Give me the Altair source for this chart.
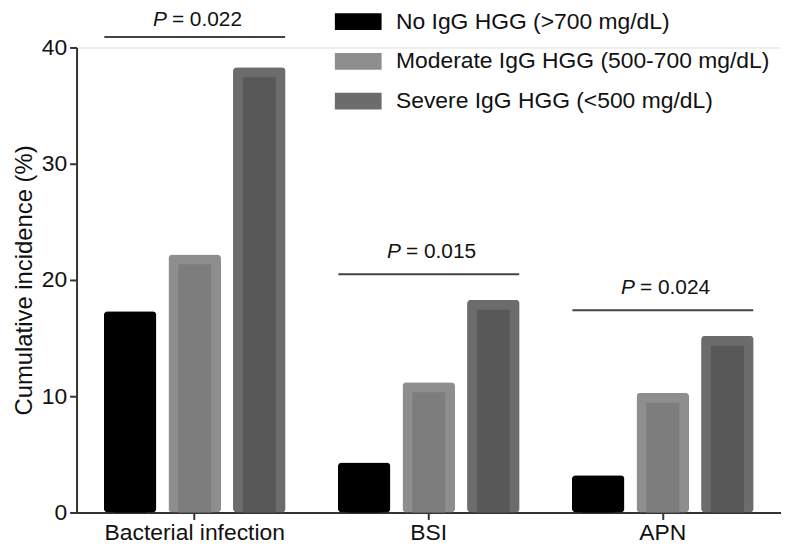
import altair as alt
import pandas as pd

categories = ["Bacterial infection", "BSI", "APN"]
groups = ["No IgG HGG (>700 mg/dL)", "Moderate IgG HGG (500-700 mg/dL)", "Severe IgG HGG (<500 mg/dL)"]
no_hgg = [17.3, 4.3, 3.2]
moderate_hgg = [22.2, 11.2, 10.3]
severe_hgg = [38.3, 18.3, 15.2]
inner_colors = ["#000000", "#7d7d7d", "#585858"]
outer_colors = ["#000000", "#8e8e8e", "#6c6c6c"]

p_labels = ["= 0.022", "= 0.015", "= 0.024"]
p_line_y = [40.9, 20.5, 17.4]
p_text_y = [42.4, 22.4, 19.3]

rows = []
for i, c in enumerate(categories):
    for g, vals in zip(groups, [no_hgg, moderate_hgg, severe_hgg]):
        rows.append({"category": c, "group": g, "value": vals[i]})
df = pd.DataFrame(rows)

ann = pd.DataFrame({"category": categories, "label": p_labels,
                    "line_y": p_line_y, "text_y": p_text_y, "p": ["P"] * 3})

FONT = "Liberation Sans"

x_scale = alt.Scale(domain=categories, paddingInner=0, paddingOuter=0.005)
y_scale = alt.Scale(domain=[0, 40], nice=False)

legend = alt.Legend(title=None, orient="none", legendX=262.5, legendY=-47,
                    symbolType="M-1.12,-0.4H1.12V0.4H-1.12Z", symbolSize=1764,
                    symbolStrokeWidth=0, labelFontSize=23, labelFont=FONT,
                    labelColor="#111", labelOffset=17, rowPadding=7,
                    padding=0, labelLimit=500)

outer = alt.Chart(df).mark_bar(cornerRadius=4).encode(
    x=alt.X("category:N", scale=x_scale, sort=categories,
            axis=alt.Axis(title=None, labelAngle=0, labelFontSize=23, labelFont=FONT,
                          labelColor="#111", tickSize=7, tickColor="#333", tickWidth=2,
                          domainColor="#333", domainWidth=2, labelPadding=2,
                          labelLimit=400)),
    xOffset=alt.XOffset("group:N", sort=groups,
                        scale=alt.Scale(paddingInner=0.185, paddingOuter=0.404)),
    y=alt.Y("value:Q", scale=y_scale,
            axis=alt.Axis(title="Cumulative incidence (%)", values=[0, 10, 20, 30, 40],
                          grid=False, labelFontSize=23, labelFont=FONT, labelColor="#111",
                          titleFontSize=24, titleFont=FONT, titleFontWeight="normal",
                          titleColor="#111", titlePadding=5, tickSize=7, tickColor="#333",
                          tickWidth=2, domainColor="#333", domainWidth=2, labelPadding=3)),
    color=alt.Color("group:N", sort=groups,
                    scale=alt.Scale(domain=groups, range=outer_colors), legend=legend),
)

inner = alt.Chart(df).mark_bar(clip=True, yOffset=10).encode(
    x=alt.X("category:N", scale=x_scale, sort=categories),
    xOffset=alt.XOffset("group:N", sort=groups,
                        scale=alt.Scale(paddingInner=0.49, paddingOuter=0.556)),
    y=alt.Y("value:Q", scale=y_scale),
    color=alt.Color("group:N", sort=groups,
                    scale=alt.Scale(domain=groups, range=inner_colors), legend=None),
)

lines = alt.Chart(ann).mark_rule(color="#444", strokeWidth=2, xOffset=-91, x2Offset=91).encode(
    x=alt.X("category:N", scale=x_scale, sort=categories),
    x2="category:N",
    y=alt.Y("line_y:Q", scale=y_scale),
)

ptext = alt.Chart(ann).mark_text(font=FONT, fontSize=21, fontStyle="italic", align="right",
                                 baseline="middle", dx=-28, color="#111").encode(
    x=alt.X("category:N", scale=x_scale, sort=categories),
    y=alt.Y("text_y:Q", scale=y_scale),
    text="p:N",
)

vtext = alt.Chart(ann).mark_text(font=FONT, fontSize=21, align="left",
                                 baseline="middle", dx=-23, color="#111").encode(
    x=alt.X("category:N", scale=x_scale, sort=categories),
    y=alt.Y("text_y:Q", scale=y_scale),
    text="label:N",
)

chart = alt.layer(outer, inner, lines, ptext, vtext).resolve_scale(
    color="independent", xOffset="independent"
).properties(
    width=709, height=468,
    autosize=alt.AutoSizeParams(type="none"),
    padding={"left": 69, "top": 38, "right": 0, "bottom": 30},
).configure_view(stroke=None).configure(background="white")

chart.save("out.html", embed_options={"renderer": "svg", "actions": False})
